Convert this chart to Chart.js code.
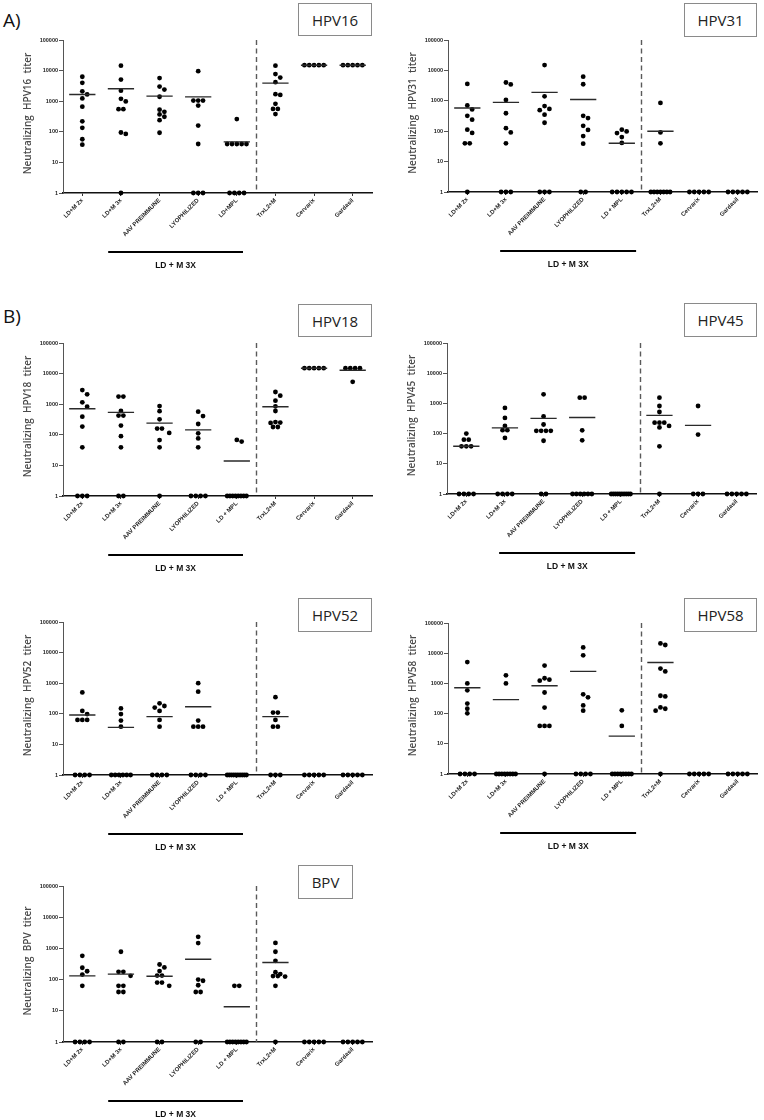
<!DOCTYPE html>
<html>
<head>
<meta charset="utf-8">
<script src="https://cdn.jsdelivr.net/npm/chart.js@4.4.1/dist/chart.umd.min.js"></script>
<style>
  html, body { margin: 0; padding: 0; background: #fff; }
  body { width: 764px; height: 1120px; overflow: hidden; position: relative; }
  canvas { position: absolute; }
  .box { position: absolute; border: 1px solid #8a8a8a; box-sizing: border-box; display: flex; align-items: center; justify-content: center; font-family: "Open Sans", "Noto Sans", sans-serif; font-size: 15px; color: #222; background: #fff; }
  .letter { position: absolute; font-family: "Open Sans", "Noto Sans", sans-serif; font-size: 19px; color: #111; line-height: 1; }
</style>
</head>
<body>
<div class="letter" style="left:3px;top:11px;">A)</div>
<div class="letter" style="left:3px;top:307px;">B)</div>

<script>
// ---------- categories & ticks ----------
const CATEGORIES = ["LD+M 2x", "LD+M 3x", "AAV PREIMMUNE", "LYOPHILIZED", "LD + MPL", "TrxL2+M", "Cervarix", "Gardasil"];
const CATEGORIES_HPV16 = ["LD+M 2x", "LD+M 3x", "AAV PREIMMUNE", "LYOPHILIZED", "LD+MPL", "TrxL2+M", "Cervarix", "Gardasil"];
const Y_TICKS = [1, 10, 100, 1000, 10000, 100000];
const GROUP_LABEL = "LD + M 3X";
const DIVIDER_AT = 4.5;

// ---------- HPV16 ----------
const HPV16_VALUES = [
  [6300, 4000, 2100, 1660, 1230, 660, 220, 135, 57, 38],
  [14500, 5100, 2200, 1200, 980, 550, 550, 95, 85, 1],
  [5700, 3000, 2400, 1400, 530, 450, 370, 310, 240, 93],
  [9600, 1050, 1050, 1050, 720, 160, 40, 1, 1, 1],
  [260, 40, 40, 40, 40, 40, 1, 1, 1, 1],
  [14500, 7700, 5900, 4200, 1700, 1600, 820, 560, 560, 380],
  [15000, 15000, 15000, 15000, 15000],
  [15000, 15000, 15000, 15000, 15000]
];
const HPV16_MEANS = [1650, 2550, 1470, 1380, 47, 3900, 15000, 15000];

// ---------- HPV31 ----------
const HPV31_VALUES = [
  [3600, 700, 520, 320, 240, 112, 88, 40, 40, 1],
  [4000, 3450, 1070, 390, 126, 91, 40, 1, 1, 1],
  [15000, 1400, 670, 540, 490, 350, 190, 1, 1, 1],
  [6200, 3500, 320, 270, 150, 110, 69, 39, 1, 1],
  [112, 98, 87, 64, 41, 1, 1, 1, 1, 1],
  [850, 91, 40, 1, 1, 1, 1, 1, 1, 1],
  [1, 1, 1, 1, 1],
  [1, 1, 1, 1, 1]
];
const HPV31_MEANS = [580, 890, 1900, 1100, 40, 100, null, null];

// ---------- HPV18 ----------
const HPV18_VALUES = [
  [2900, 2100, 1150, 830, 390, 185, 39, 1, 1, 1],
  [1780, 1780, 600, 425, 425, 200, 90, 39, 1, 1],
  [870, 590, 320, 160, 160, 115, 67, 39, 1],
  [570, 410, 225, 112, 76, 39, 1, 1, 1, 1],
  [68, 60, 1, 1, 1, 1, 1, 1, 1, 1],
  [2500, 1900, 1300, 850, 600, 250, 260, 180, 180, 245],
  [15000, 15000, 15000, 15000, 15000],
  [15000, 15000, 15000, 15000, 5400]
];
const HPV18_MEANS = [710, 540, 240, 145, 14, 830, 15000, 12800];

// ---------- HPV45 ----------
const HPV45_VALUES = [
  [100, 63, 63, 38, 38, 38, 1, 1, 1, 1],
  [710, 330, 180, 130, 130, 72, 1, 1, 1, 1],
  [2000, 370, 200, 124, 124, 124, 124, 58, 1, 1],
  [1550, 1550, 128, 60, 1, 1, 1, 1, 1, 1],
  [1, 1, 1, 1, 1, 1, 1, 1, 1, 1],
  [1550, 820, 520, 230, 230, 230, 180, 160, 38, 1],
  [820, 93, 1, 1, 1],
  [1, 1, 1, 1, 1]
];
const HPV45_MEANS = [38, 155, 320, 340, null, 400, 187, null];

// ---------- HPV52 ----------
const HPV52_VALUES = [
  [500, 124, 98, 63, 63, 63, 1, 1, 1, 1],
  [150, 98, 60, 38, 1, 1, 1, 1, 1, 1],
  [220, 180, 160, 124, 63, 38, 1, 1, 1, 1],
  [1000, 530, 60, 38, 38, 38, 1, 1, 1, 1],
  [1, 1, 1, 1, 1, 1, 1, 1, 1, 1],
  [350, 110, 110, 63, 38, 38, 1, 1, 1],
  [1, 1, 1, 1, 1],
  [1, 1, 1, 1, 1]
];
const HPV52_MEANS = [91, 36, 81, 170, null, 81, null, null];

// ---------- HPV58 ----------
const HPV58_VALUES = [
  [5100, 1000, 590, 215, 145, 102, 1, 1, 1, 1],
  [1850, 1000, 1, 1, 1, 1, 1, 1, 1, 1],
  [3900, 1480, 1330, 1230, 500, 158, 39, 39, 39, 1],
  [15500, 8500, 435, 345, 187, 125, 1, 1, 1, 1],
  [128, 39, 1, 1, 1, 1, 1, 1, 1, 1],
  [21000, 18700, 3100, 2500, 390, 370, 160, 145, 125, 1],
  [1, 1, 1, 1, 1],
  [1, 1, 1, 1, 1]
];
const HPV58_MEANS = [720, 290, 840, 2500, 18, 4900, null, null];

// ---------- BPV ----------
const BPV_VALUES = [
  [580, 240, 185, 145, 63, 1, 1, 1, 1],
  [780, 178, 178, 132, 63, 63, 40, 40, 1, 1],
  [305, 245, 187, 135, 135, 80, 80, 63, 1, 1],
  [2350, 1480, 100, 92, 66, 40, 40, 1, 1],
  [63, 63, 1, 1, 1, 1, 1, 1, 1, 1],
  [1500, 780, 400, 172, 150, 130, 130, 125, 63, 1],
  [1, 1, 1, 1, 1],
  [1, 1, 1, 1, 1]
];
const BPV_MEANS = [132, 150, 128, 450, 13.5, 355, null, null];

// ---------- layout (positions only) ----------
const PANELS = [
  { name: "HPV16", values: HPV16_VALUES, means: HPV16_MEANS, cats: CATEGORIES_HPV16, left: 0,   top: 40,  plotH: 153, box: [298, 3, 74, 33],   bar: [0.67, 4.16] },
  { name: "HPV31", values: HPV31_VALUES, means: HPV31_MEANS, cats: CATEGORIES, left: 385, top: 40,  plotH: 152, box: [684, 3, 73, 34],   bar: [0.85, 4.37] },
  { name: "HPV18", values: HPV18_VALUES, means: HPV18_MEANS, cats: CATEGORIES, left: 0,   top: 343, plotH: 153, box: [298, 304, 74, 33], bar: [0.67, 4.16] },
  { name: "HPV45", values: HPV45_VALUES, means: HPV45_MEANS, cats: CATEGORIES, left: 384, top: 343, plotH: 151, box: [684, 303, 73, 34], bar: [0.85, 4.37] },
  { name: "HPV52", values: HPV52_VALUES, means: HPV52_MEANS, cats: CATEGORIES, left: 0,   top: 622, plotH: 153, box: [298, 598, 74, 34], bar: [0.67, 4.16] },
  { name: "HPV58", values: HPV58_VALUES, means: HPV58_MEANS, cats: CATEGORIES, left: 385, top: 623, plotH: 151, box: [684, 598, 73, 34], bar: [0.85, 4.37] },
  { name: "BPV",   values: BPV_VALUES,   means: BPV_MEANS,   cats: CATEGORIES, left: 0,   top: 886, plotH: 156, box: [298, 865, 55, 34], bar: [0.67, 4.16] }
];

const CANVAS_W = 376, CANVAS_H = 280, PAD_TOP = 40, PAD_LEFT = 22, Y_W = 41, PAD_RIGHT = 4;

// Column-scatter placement: spread overlapping dots sideways (beeswarm)
function swarm(values, cat) {
  const STEP = 0.125, MIN_DY = 0.15, MAX_SPAN = 0.5;
  const counts = {};
  values.forEach(v => counts[v] = (counts[v] || 0) + 1);
  const placed = [];
  const done = new Set();
  const sorted = values.slice().sort((a, b) => b - a);
  for (const v of sorted) {
    if (done.has(v)) continue;
    const n = counts[v];
    const ly = Math.log10(v);
    if (n > 1) {
      const step = Math.min(STEP, MAX_SPAN / (n - 1));
      for (let k = 0; k < n; k++) placed.push({ dx: (k - (n - 1) / 2) * step, ly, v });
      done.add(v);
    } else {
      let chosen = 0;
      for (let j = 0; j < 30; j++) {
        const cand = (j === 0 ? 0 : (j % 2 ? Math.ceil(j / 2) : -j / 2)) * STEP;
        const hit = placed.some(p => Math.abs(p.ly - ly) < MIN_DY && Math.abs(p.dx - cand) < STEP * 0.95);
        if (!hit) { chosen = cand; break; }
      }
      placed.push({ dx: chosen, ly, v });
    }
  }
  return placed.map(p => ({ x: cat + p.dx, y: p.v }));
}

function meanSegments(means) {
  const out = [];
  means.forEach((m, i) => {
    if (m === null) return;
    out.push({ x: i - 0.34, y: m }, { x: i + 0.34, y: m }, { x: i + 0.5, y: null });
  });
  return out;
}

const decorPlugin = {
  id: 'decor',
  afterDraw(chart, args, opts) {
    const { ctx, chartArea, scales: { x } } = chart;
    ctx.save();
    // dashed divider
    const dx = Math.round(x.getPixelForValue(DIVIDER_AT)) + 0.5;
    ctx.strokeStyle = '#5a5a5a';
    ctx.lineWidth = 1.4;
    ctx.setLineDash([5, 3.5]);
    ctx.beginPath();
    ctx.moveTo(dx, chartArea.top);
    ctx.lineTo(dx, chartArea.bottom);
    ctx.stroke();
    // group bar + label
    ctx.setLineDash([]);
    const x1 = x.getPixelForValue(opts.from), x2 = x.getPixelForValue(opts.to);
    const by = chartArea.bottom + 59;
    ctx.strokeStyle = '#000';
    ctx.lineWidth = 2;
    ctx.beginPath();
    ctx.moveTo(x1, by);
    ctx.lineTo(x2, by);
    ctx.stroke();
    ctx.fillStyle = '#111';
    ctx.font = 'bold 8.5px "Liberation Sans", Arial, sans-serif';
    ctx.textAlign = 'center';
    ctx.textBaseline = 'middle';
    ctx.fillText(GROUP_LABEL, (x1 + x2) / 2, by + 14);
    // y-axis title
    ctx.translate(PAD_LEFT + 6, (chartArea.top + chartArea.bottom) / 2 - 3);
    ctx.rotate(-Math.PI / 2);
    ctx.fillStyle = '#4a4a4a';
    ctx.font = '600 10px "Open Sans", "Noto Sans", sans-serif';
    ctx.fillText(opts.title, 0, 0);
    ctx.restore();
  }
};

Chart.defaults.font.family = '"Liberation Sans", Arial, sans-serif';

PANELS.forEach(p => {
  const cv = document.createElement('canvas');
  cv.width = CANVAS_W; cv.height = CANVAS_H;
  cv.style.left = p.left + 'px';
  cv.style.top = (p.top - PAD_TOP) + 'px';
  document.body.appendChild(cv);

  const box = document.createElement('div');
  box.className = 'box';
  box.textContent = p.name;
  box.style.left = p.box[0] + 'px'; box.style.top = p.box[1] + 'px';
  box.style.width = p.box[2] + 'px'; box.style.height = p.box[3] + 'px';
  document.body.appendChild(box);

  const points = [];
  p.values.forEach((vals, i) => points.push(...swarm(vals, i)));
  const xH = CANVAS_H - PAD_TOP - p.plotH;

  new Chart(cv, {
    type: 'scatter',
    data: {
      datasets: [
        { data: meanSegments(p.means), showLine: true, pointRadius: 0, borderColor: '#2a2a2a', borderWidth: 1.4, spanGaps: false, clip: false },
        { data: points, pointRadius: 2.4, pointBackgroundColor: '#000', pointBorderWidth: 0, clip: false }
      ]
    },
    options: {
      responsive: false,
      animation: false,
      events: [],
      layout: { padding: { left: PAD_LEFT, right: PAD_RIGHT, top: PAD_TOP, bottom: 0 } },
      plugins: { legend: { display: false }, tooltip: { enabled: false },
                 decor: { from: p.bar[0], to: p.bar[1], title: 'Neutralizing  ' + p.name + '  titer' } },
      scales: {
        x: {
          type: 'linear', min: -0.5, max: 7.5,
          afterBuildTicks: s => { s.ticks = p.cats.map((_, i) => ({ value: i })); },
          afterCalculateLabelRotation: s => { s.labelRotation = 45; },
          ticks: { autoSkip: false, minRotation: 45, maxRotation: 45, padding: 1, color: '#222',
                   font: { size: 6, weight: 'bold' }, callback: v => p.cats[v] },
          grid: { display: true, drawOnChartArea: false, drawTicks: true, tickLength: 3, color: '#333', lineWidth: 1 },
          border: { display: true, color: '#111', width: 1.6 },
          afterFit: s => { s.height = xH; s.paddingLeft = 0; s.paddingRight = 0; }
        },
        y: {
          type: 'logarithmic', min: 1, max: 100000,
          afterBuildTicks: s => { s.ticks = Y_TICKS.map(v => ({ value: v })); },
          ticks: { autoSkip: false, padding: 1, color: '#222', font: { size: 5.5, weight: 'bold' }, callback: v => String(v) },
          grid: { display: true, drawOnChartArea: false, drawTicks: true, tickLength: 4, color: '#555', lineWidth: 1 },
          border: { display: true, color: '#555', width: 1 },
          title: { display: false },
          afterFit: s => { s.width = Y_W; }
        }
      }
    },
    plugins: [decorPlugin]
  });
});
</script>
</body>
</html>
